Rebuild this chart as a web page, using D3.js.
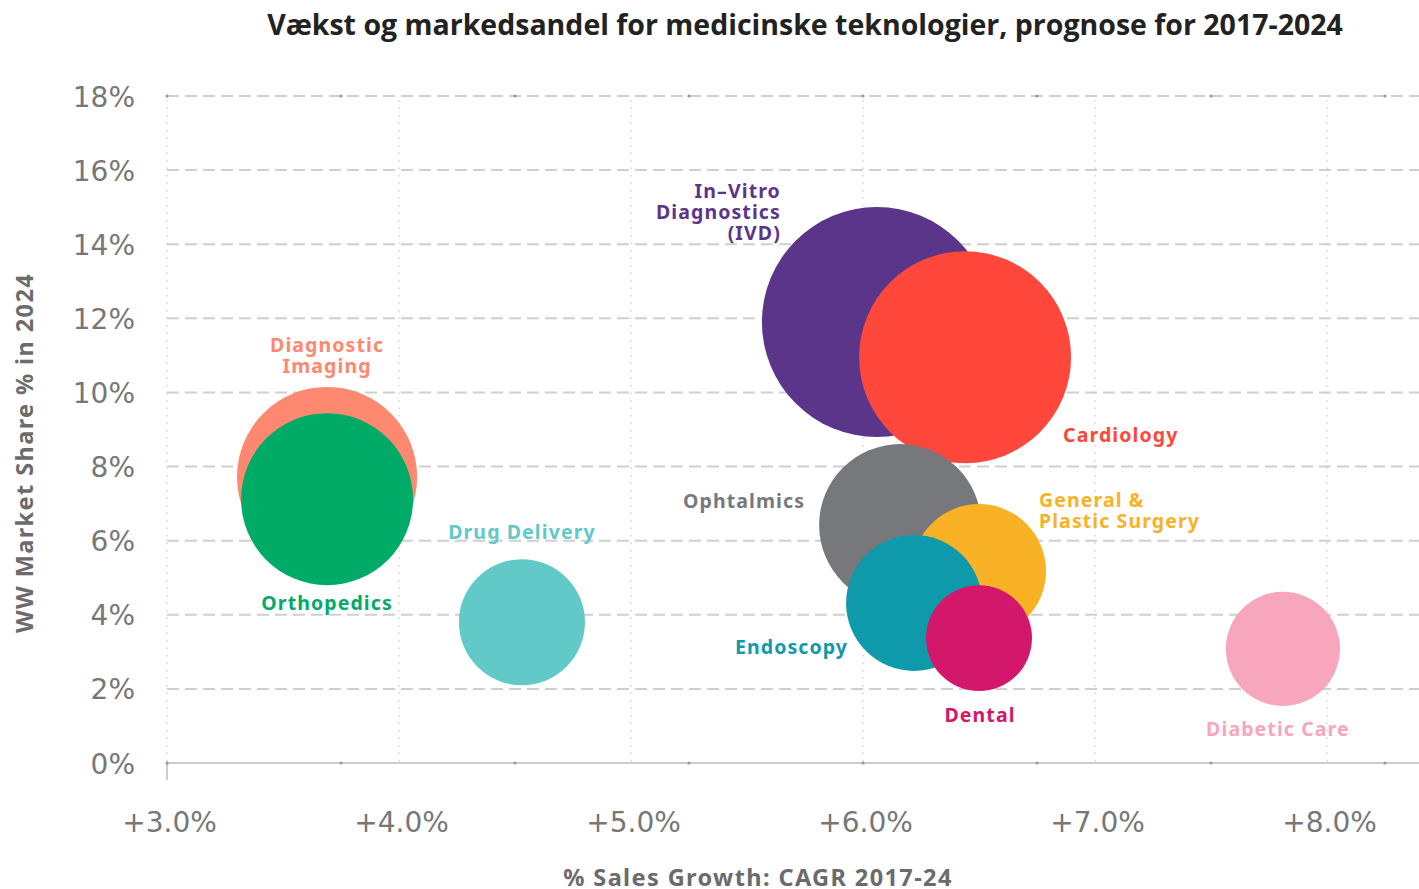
<!DOCTYPE html>
<html>
<head>
<meta charset="utf-8">
<script src="https://cdn.jsdelivr.net/npm/d3@7/dist/d3.min.js"></script>
<style>
  body { margin: 0; background: #fff; }
  svg { display: block; }
  .tick-label { font-family: "DejaVu Sans", sans-serif; font-size: 28px; fill: #777; }
  .bubble-label { font-family: "Noto Sans", sans-serif; font-weight: 700; font-size: 19.5px; letter-spacing: 1.1px; }
  .axis-title { font-family: "Noto Sans", sans-serif; font-weight: 700; font-size: 23.5px; letter-spacing: 1.4px; fill: #6b6b6b; }
</style>
</head>
<body>
<div id="chart"></div>
<script>
  // Data
  var segments = ['In\u2013Vitro Diagnostics (IVD)', 'Cardiology', 'Diagnostic Imaging', 'Orthopedics',
                  'Drug Delivery', 'Ophtalmics', 'General & Plastic Surgery', 'Endoscopy', 'Dental', 'Diabetic Care'];
  var growth = [6.06, 6.44, 3.69, 3.69, 4.53, 6.16, 6.50, 6.22, 6.50, 7.81];      // CAGR 2017-24, %
  var share = [11.9, 10.95, 7.72, 7.12, 3.80, 6.42, 5.18, 4.32, 3.37, 3.08];       // WW share 2024, %
  var bubbleSize = [79.6, 67.6, 48.8, 44.5, 23.9, 39.5, 27.0, 27.8, 16.9, 19.6];   // relative size
  var colors = ['#5b358a', '#ff473b', '#ff8870', '#00ab67', '#62c9c9', '#76787c', '#f9b225', '#0f9aab', '#d3176a', '#f8a6bd'];
  var yTicks = [0, 2, 4, 6, 8, 10, 12, 14, 16, 18];
  var xTicks = [3, 4, 5, 6, 7, 8];
  var minorTicks = [3, 3.75, 4.5, 5.25, 6, 6.75, 7.5, 8.25];

  // label layout: lines, anchor, offset from bubble centre
  var labelLayout = [
    { lines: ['In\u2013Vitro', 'Diagnostics', '(IVD)'], anchor: 'end', dx: -96, dy: -124 },
    { lines: ['Cardiology'], anchor: 'start', dx: 98, dy: 85 },
    { lines: ['Diagnostic', 'Imaging'], anchor: 'middle', dx: 0, dy: -125 },
    { lines: ['Orthopedics'], anchor: 'middle', dx: 0, dy: 111 },
    { lines: ['Drug Delivery'], anchor: 'middle', dx: 0, dy: -83 },
    { lines: ['Ophtalmics'], anchor: 'end', dx: -95, dy: -17 },
    { lines: ['General &', 'Plastic Surgery'], anchor: 'start', dx: 60, dy: -64 },
    { lines: ['Endoscopy'], anchor: 'end', dx: -66, dy: 51 },
    { lines: ['Dental'], anchor: 'middle', dx: 1, dy: 84 },
    { lines: ['Diabetic Care'], anchor: 'middle', dx: -5, dy: 87 }
  ];

  var W = 1419, H = 889;
  var svg = d3.select('#chart').append('svg').attr('width', W).attr('height', H);

  var x = d3.scaleLinear().domain([3, 8.4]).range([167, 1419.8]);
  var y = d3.scaleLinear().domain([0, 18]).range([763, 96]);
  var r = d3.scaleSqrt().domain([0, d3.max(bubbleSize)]).range([0, 115]);

  // Title
  svg.append('text').attr('x', 805).attr('y', 35).attr('text-anchor', 'middle')
      .style('font-family', '"Open Sans", sans-serif').style('font-weight', 700)
      .style('font-size', '28.5px').style('fill', '#222')
      .text('Vækst og markedsandel for medicinske teknologier, prognose for 2017-2024');

  // Vertical dotted grid
  svg.append('g').selectAll('line').data(xTicks).enter().append('line')
      .attr('x1', function(d) { return x(d); }).attr('x2', function(d) { return x(d); })
      .attr('y1', y(18) + 4).attr('y2', y(0))
      .attr('stroke', '#c8c8c8').attr('stroke-width', 1.2).attr('stroke-dasharray', '1.5,6');

  // Horizontal dashed grid
  svg.append('g').selectAll('line').data(yTicks.filter(function(d) { return d > 0; })).enter().append('line')
      .attr('x1', x(3)).attr('x2', W)
      .attr('y1', function(d) { return y(d); }).attr('y2', function(d) { return y(d); })
      .attr('stroke', '#cfcfcf').attr('stroke-width', 2).attr('stroke-dasharray', '12,6');

  // Baseline
  svg.append('line').attr('x1', x(3)).attr('x2', W).attr('y1', y(0)).attr('y2', y(0))
      .attr('stroke', '#cccccc').attr('stroke-width', 2);
  svg.append('line').attr('x1', x(3)).attr('x2', x(3)).attr('y1', y(0)).attr('y2', y(0) + 17)
      .attr('stroke', '#cccccc').attr('stroke-width', 2);

  // Minor tick dots top and bottom
  [18, 0].forEach(function(v) {
    svg.append('g').selectAll('circle').data(minorTicks).enter().append('circle')
        .attr('cx', function(d) { return x(d); }).attr('cy', y(v)).attr('r', 1.6)
        .attr('fill', '#999');
  });

  // Y axis labels
  var yAxis = d3.axisLeft(y).tickValues(yTicks).tickSize(0).tickPadding(0)
      .tickFormat(function(d) { return d + '%'; });
  var gy = svg.append('g').attr('transform', 'translate(135,0)').call(yAxis);
  gy.select('.domain').remove();
  gy.selectAll('text').attr('class', 'tick-label').attr('dy', '0.36em');

  // X axis labels
  var xAxis = d3.axisBottom(x).tickValues(xTicks).tickSize(0).tickPadding(0)
      .tickFormat(function(d) { return '+' + d.toFixed(1) + '%'; });
  var gx = svg.append('g').attr('transform', 'translate(2,822)').call(xAxis);
  gx.select('.domain').remove();
  gx.selectAll('text').attr('class', 'tick-label').attr('dy', '0.36em');

  // Axis titles
  svg.append('text').attr('class', 'axis-title').attr('x', 758).attr('y', 886).attr('text-anchor', 'middle')
      .text('% Sales Growth: CAGR 2017-24');
  svg.append('text').attr('class', 'axis-title').attr('transform', 'translate(33,453) rotate(-90)')
      .attr('text-anchor', 'middle')
      .text('WW Market Share % in 2024');

  // Bubbles
  var idx = d3.range(segments.length);
  svg.append('g').selectAll('circle').data(idx).enter().append('circle')
      .attr('cx', function(i) { return x(growth[i]); })
      .attr('cy', function(i) { return y(share[i]); })
      .attr('r', function(i) { return r(bubbleSize[i]); })
      .attr('fill', function(i) { return colors[i]; });

  // Labels
  idx.forEach(function(i) {
    var L = labelLayout[i];
    var cx = x(growth[i]) + L.dx, cy = y(share[i]) + L.dy;
    var t = svg.append('text').attr('class', 'bubble-label')
        .attr('text-anchor', L.anchor).attr('fill', colors[i]);
    L.lines.forEach(function(line, k) {
      t.append('tspan').attr('x', cx).attr('y', cy + k * 21).text(line);
    });
  });
</script>
</body>
</html>
